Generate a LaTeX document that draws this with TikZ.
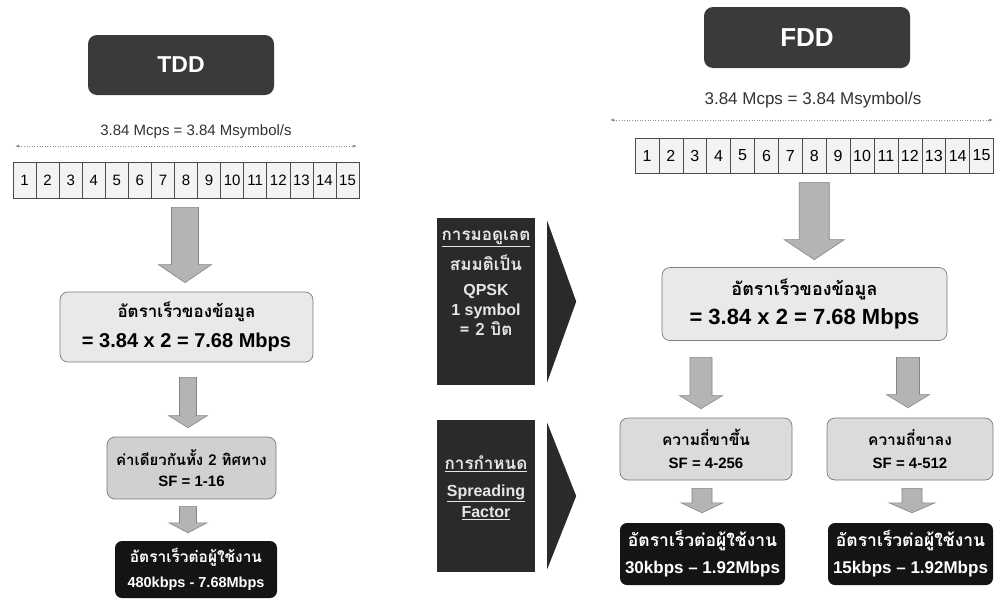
\documentclass[tikz,border=0pt]{standalone}
\usepackage{fontspec}
\setmainfont{Liberation Sans}
\newfontfamily\thaif[Script=Thai]{Loma}
\usetikzlibrary{calc,arrows.meta}
\definecolor{headgray}{HTML}{3A3A3A}
\definecolor{midgray}{HTML}{2A2A2A}
\definecolor{userblack}{HTML}{141414}
\definecolor{lightfill}{HTML}{E9E9E9}
\definecolor{sffill}{HTML}{D0D0D0}
\definecolor{sffill2}{HTML}{DBDBDB}
\definecolor{boxline}{HTML}{7A7A7A}
\definecolor{arrfill}{HTML}{B4B4B4}
\definecolor{arrline}{HTML}{858585}
\definecolor{cellfill}{HTML}{F3F3F3}
\definecolor{midtext}{HTML}{E6E6E6}
\newcommand{\fsz}[2]{\fontsize{#1}{#2}\selectfont}
\newcommand{\ThaiLine}[2]{{\thaif\bfseries\fontsize{#1}{#1}\selectfont #2}}
\newcommand{\barrow}[5]{%
  \filldraw[blockarr] let \p1=(#1), \p2=(#2) in
    (\x1-#3pt,\y1) -- (\x1+#3pt,\y1) -- (\x1+#3pt,\y2+#5pt) -- (\x1+#4pt,\y2+#5pt)
    -- (\x1,\y2) -- (\x1-#4pt,\y2+#5pt) -- (\x1-#3pt,\y2+#5pt) -- cycle;}
\tikzset{
  headbox/.style={fill=headgray, rounded corners=9pt, text=white, inner sep=0pt},
  ratetext/.style={text=black!80, inner sep=0pt},
  measure/.style={draw=black!45, dotted, line width=0.6pt, {Latex[length=4pt,width=3pt]}-{Latex[length=4pt,width=3pt]}},
  cell/.style={draw=black!70, fill=cellfill, line width=0.6pt, inner sep=0pt},
  lightbox/.style={draw=boxline, fill=lightfill, rounded corners=8pt, line width=0.7pt, align=center, inner sep=0pt},
  sfbox/.style={draw=boxline, fill=#1, rounded corners=8pt, line width=0.7pt, align=center, inner sep=0pt},
  userbox/.style={fill=userblack, rounded corners=7pt, text=white, align=center, inner sep=0pt},
  midbox/.style={fill=midgray, inner sep=0pt},
  midlabel/.style={text=midtext, align=center, inner sep=0pt},
  chevron/.style={fill=midgray},
  blockarr/.style={fill=arrfill, draw=arrline, line width=0.6pt, line join=miter}
}
\begin{document}
\begin{tikzpicture}[x=1pt,y=-1pt]
\useasboundingbox (0,0) rectangle (995,600);
\fill[white] (0,0) rectangle (995,600);

% ================= TDD =================
\node[headbox, minimum width=186pt, minimum height=60pt, font=\fsz{23}{26}\bfseries] (tddh) at (181,65) {TDD};
\node[ratetext, font=\fsz{15}{18}] (tddr) at (196,132) {3.84 Mcps = 3.84 Msymbol/s};
\coordinate (tml) at (15,146);
\coordinate (tmr) at (357,146);
\draw[measure] (tml) -- (tmr);
\foreach \i in {1,...,15}
  \node[cell, minimum width=23.07pt, minimum height=36pt, font=\fsz{15}{18}] (t\i) at ({13+23.07*(\i-0.5)},180) {\i};

\node[lightbox, minimum width=253pt, minimum height=70pt, font=\fsz{17}{30}] (tdata) at (186.5,327)
  {\ThaiLine{17}{อัตราเร็วของข้อมูล}\\{\bfseries\fsz{20}{22}= 3.84 x 2 = 7.68 Mbps}};
\node[sfbox=sffill, minimum width=169pt, minimum height=62pt, font=\fsz{15}{21}] (tsf) at (191.5,468)
  {\ThaiLine{15}{ค่าเดียวกันทั้ง 2 ทิศทาง}\\{\bfseries\fsz{15}{17}SF = 1-16}};
\node[userbox, minimum width=162pt, minimum height=57pt, font=\fsz{15}{25}] (tuser) at (196,569.5)
  {\ThaiLine{15.5}{อัตราเร็วต่อผู้ใช้งาน}\\{\bfseries\fsz{14.5}{16}480kbps - 7.68Mbps}};

\coordinate (ta1s) at ($(t8.south)+(-1,9)$);
\coordinate (ta1e) at ($(tdata.north)+(0,-9)$);
\barrow{ta1s}{ta1e}{13.5}{26.5}{18}
\coordinate (ta2s) at ($(tdata.south)+(1.5,15)$);
\coordinate (ta2e) at ($(tsf.north)+(0,-9)$);
\barrow{ta2s}{ta2e}{8.5}{19.5}{12}
\coordinate (ta3s) at ($(tsf.south)+(-3.5,7)$);
\coordinate (ta3e) at ($(tuser.north)+(0,-8)$);
\barrow{ta3s}{ta3e}{8.5}{19}{10}

% ================= middle =================
\node[midbox, minimum width=98pt, minimum height=167pt] (mod) at (486,301.5) {};
\node[midlabel, font=\fsz{16}{20}] (modt) at (486,283)
  {\ThaiLine{17}{\underline{การมอดูเลต}}\\[7pt]
   \ThaiLine{17}{สมมติเป็น}\\[5pt]
   {\bfseries QPSK}\\
   {\bfseries 1 symbol}\\
   \ThaiLine{17}{= 2 บิต}};
\fill[chevron] ($(mod.north east)+(12,3)$) -- ($(mod.east)+(41,0)$) -- ($(mod.south east)+(12,-3)$) -- cycle;
\node[midbox, minimum width=98pt, minimum height=152pt] (msf) at (486,496) {};
\node[midlabel, font=\fsz{16}{21}] (msft) at (486,488)
  {\ThaiLine{17}{\underline{การกำหนด}}\\[6pt]
   {\bfseries\underline{Spreading}}\\
   {\bfseries\underline{Factor}}};
\fill[chevron] ($(msf.north east)+(12,3)$) -- ($(msf.east)+(41,0)$) -- ($(msf.south east)+(12,-3)$) -- cycle;

% ================= FDD =================
\node[headbox, minimum width=206pt, minimum height=61pt, font=\fsz{26}{29}\bfseries] (fddh) at (807,37.5) {FDD};
\node[ratetext, font=\fsz{17}{20}] (fddr) at (813,100) {3.84 Mcps = 3.84 Msymbol/s};
\coordinate (fml) at (610,120);
\coordinate (fmr) at (993,120);
\draw[measure] (fml) -- (fmr);
\foreach \i in {1,...,15}
  \node[cell, minimum width=23.9pt, minimum height=35pt, font=\fsz{16}{18}] (f\i) at ({635+23.9*(\i-0.5)},155.5) {\i};

\node[lightbox, minimum width=285pt, minimum height=73pt, font=\fsz{18}{29}] (fdata) at (804.5,304)
  {\ThaiLine{18}{อัตราเร็วของข้อมูล}\\{\bfseries\fsz{22}{24}= 3.84 x 2 = 7.68 Mbps}};
\node[sfbox=sffill2, minimum width=172pt, minimum height=62pt, font=\fsz{15}{23}] (fup) at (706,449)
  {\ThaiLine{15.5}{ความถี่ขาขึ้น}\\{\bfseries\fsz{15}{17}SF = 4-256}};
\node[sfbox=sffill2, minimum width=166pt, minimum height=62pt, font=\fsz{15}{23}] (fdown) at (910,449)
  {\ThaiLine{15.5}{ความถี่ขาลง}\\{\bfseries\fsz{15}{17}SF = 4-512}};
\node[userbox, minimum width=165pt, minimum height=62pt, font=\fsz{17}{27}] (fuser1) at (702.5,554)
  {\ThaiLine{17.5}{อัตราเร็วต่อผู้ใช้งาน}\\{\bfseries\fsz{17}{19}30kbps -- 1.92Mbps}};
\node[userbox, minimum width=165pt, minimum height=62pt, font=\fsz{17}{27}] (fuser2) at (910.5,554)
  {\ThaiLine{17.5}{อัตราเร็วต่อผู้ใช้งาน}\\{\bfseries\fsz{17}{19}15kbps -- 1.92Mbps}};

\coordinate (fa1s) at ($(f8.south)+(0,9)$);
\coordinate (fa1e) at ($(fdata.north)+(0,-7.5)$);
\barrow{fa1s}{fa1e}{15}{30}{20}
\coordinate (fa2s) at ($(fdata.south)+(-103.5,16.5)$);
\coordinate (fa2e) at ($(fup.north)+(0,-9)$);
\barrow{fa2s}{fa2e}{11}{21.5}{13}
\coordinate (fa3s) at ($(fdata.south)+(103.5,16.5)$);
\coordinate (fa3e) at ($(fdown.north)+(0,-10)$);
\barrow{fa3s}{fa3e}{11.5}{21.5}{13}
\coordinate (fa4s) at ($(fup.south)+(-4,8)$);
\coordinate (fa4e) at ($(fuser1.north)+(0,-10)$);
\barrow{fa4s}{fa4e}{10}{21}{10}
\coordinate (fa5s) at ($(fdown.south)+(2,8)$);
\coordinate (fa5e) at ($(fuser2.north)+(0,-10)$);
\barrow{fa5s}{fa5e}{10}{23}{10}
\end{tikzpicture}
\end{document}
